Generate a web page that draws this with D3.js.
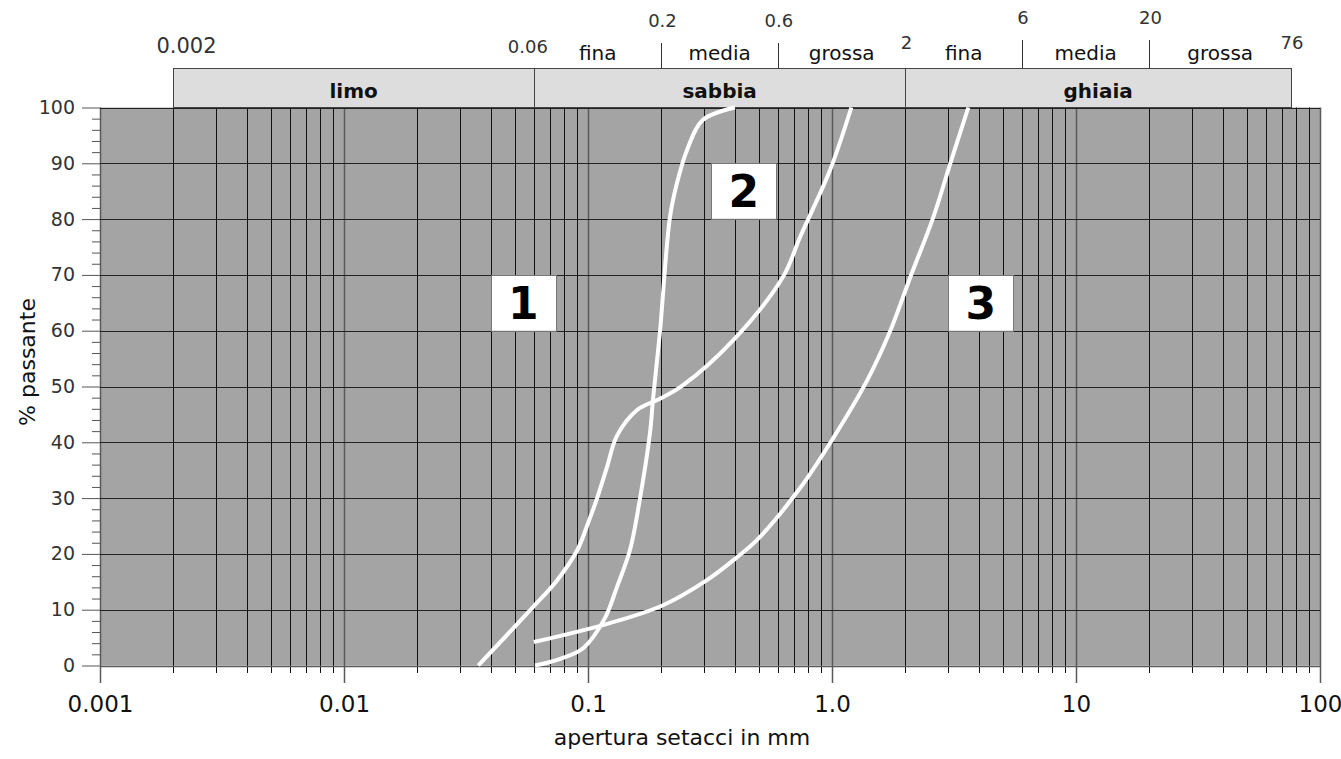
<!DOCTYPE html>
<html>
<head>
<meta charset="utf-8">
<script src="https://cdn.jsdelivr.net/npm/d3@7"></script>
<style>
  body { margin: 0; background: #fff; }
  text { font-family: "DejaVu Sans", sans-serif; }
</style>
</head>
<body>
<script>
// grading curves: [sieve opening in mm, % passing]
var curve1 = [[0.0355, 0], [0.0596, 10.5], [0.0745, 15.2], [0.0902, 20.6], [0.1, 25.5],
  [0.109, 30], [0.1197, 35.6], [0.1315, 41.2], [0.159, 45.8], [0.197, 47.8],
  [0.243, 50.1], [0.394, 58.3], [0.631, 69.7], [0.74, 76.8], [0.982, 88.8], [1.2, 100]];
var curve2 = [[0.0607, 0], [0.077, 1.2], [0.0955, 3.1], [0.117, 8.4], [0.1315, 14.1],
  [0.1486, 20.7], [0.163, 29.7], [0.1795, 41.7], [0.1846, 47.6], [0.197, 59.6],
  [0.2168, 80.4], [0.2317, 86.5], [0.2547, 92.4], [0.296, 97.8], [0.40, 100]];
var curve3 = [[0.06, 4.2], [0.123, 7.6], [0.203, 10.8], [0.307, 15.3], [0.408, 19.4],
  [0.493, 22.5], [0.74, 31.8], [1.013, 40.8], [1.39, 51], [1.73, 59.9],
  [2.09, 69.5], [2.6, 80.3], [3.05, 89.9], [3.62, 100]];

// soil fractions along the top
var fractionNames = ["limo", "sabbia", "ghiaia"];
var fractionLimits = [0.002, 0.06, 2, 76];
var subNames = ["fina", "media", "grossa"];
var sandLimits = [0.06, 0.2, 0.6, 2];
var gravelLimits = [2, 6, 20, 76];
var topLabels = ["0.002", "0.06", "0.2", "0.6", "2", "6", "20", "76"];
var topValues = [0.002, 0.06, 0.2, 0.6, 2, 6, 20, 76];

// axes
var xTickValues = [0.001, 0.01, 0.1, 1, 10, 100];
var xTickLabels = ["0.001", "0.01", "0.1", "1.0", "10", "100"];
var yTickValues = [0, 10, 20, 30, 40, 50, 60, 70, 80, 90, 100];

// curve number boxes: left edge (mm), top edge (%)
var boxLabels = ["1", "2", "3"];
var boxLeft = [0.04, 0.32, 3.0];
var boxTop = [70, 90, 70];

var W = 1341, H = 759;
var svg = d3.select("body").append("svg")
  .attr("width", W)
  .attr("height", H);

var x = d3.scaleLog().domain([0.001, 100]).range([100, 1320]);
var y = d3.scaleLinear().domain([0, 100]).range([665.5, 107.5]);

function isDecade(d) {
  var l = Math.log10(d);
  return Math.abs(l - Math.round(l)) < 1e-9;
}

// plot background
svg.append("rect")
  .attr("x", x(0.001)).attr("y", y(100))
  .attr("width", x(100) - x(0.001)).attr("height", y(0) - y(100))
  .attr("fill", "#a4a4a4");

// vertical grid (1..9 per decade), running on below the plot
svg.append("g").selectAll("line")
  .data(x.ticks())
  .enter().append("line")
    .attr("x1", function(d) { return Math.round(x(d)) + 0.5; })
    .attr("x2", function(d) { return Math.round(x(d)) + 0.5; })
    .attr("y1", y(100))
    .attr("y2", function(d) { return isDecade(d) ? 683 : 673; })
    .attr("stroke", function(d) { return isDecade(d) ? "#5a5a5a" : "#111"; })
    .attr("stroke-width", function(d) { return isDecade(d) ? 1.5 : 1; });

// horizontal grid
svg.append("g").selectAll("line")
  .data(yTickValues)
  .enter().append("line")
    .attr("x1", x(0.001)).attr("x2", x(100))
    .attr("y1", function(d) { return Math.round(y(d)) + 0.5; })
    .attr("y2", function(d) { return Math.round(y(d)) + 0.5; })
    .attr("stroke", function(d) { return d === 0 ? "#5a5a5a" : "#222"; })
    .attr("stroke-width", function(d) { return d === 0 ? 1.5 : 1; });

// y axis: major + minor ticks
var yAxis = svg.append("g")
  .attr("transform", "translate(" + x(0.001) + ",0)")
  .call(d3.axisLeft(y).tickValues(yTickValues).tickSize(18).tickPadding(7));
yAxis.select(".domain").remove();
yAxis.selectAll("line").attr("stroke", "#555");
yAxis.selectAll("text")
  .attr("font-size", 19)
  .attr("font-family", "DejaVu Sans")
  .attr("fill", "#333");

var yMinor = svg.append("g")
  .attr("transform", "translate(" + x(0.001) + ",0)")
  .call(d3.axisLeft(y).tickValues(d3.range(2, 100, 2).filter(function(d) { return d % 10; }))
    .tickSize(8).tickFormat(""));
yMinor.select(".domain").remove();
yMinor.selectAll("line").attr("stroke", "#555");

// x axis labels
var xAxis = svg.append("g")
  .attr("transform", "translate(0," + y(0) + ")")
  .call(d3.axisBottom(x).tickValues(xTickValues).tickSize(0).tickPadding(46)
    .tickFormat(function(d, i) { return xTickLabels[i]; }));
xAxis.select(".domain").remove();
xAxis.selectAll("text")
  .attr("font-size", 23)
  .attr("font-family", "DejaVu Sans")
  .attr("dy", 0)
  .attr("fill", "#111");

svg.append("text")
  .attr("x", 682).attr("y", 745)
  .attr("text-anchor", "middle")
  .attr("font-size", 22)
  .attr("fill", "#111")
  .text("apertura setacci in mm");

svg.append("text")
  .attr("transform", "translate(35,362) rotate(-90)")
  .attr("text-anchor", "middle")
  .attr("font-size", 22)
  .attr("fill", "#111")
  .text("% passante");

// fraction bands
var bands = svg.append("g");
fractionNames.forEach(function(name, i) {
  var x0 = x(fractionLimits[i]), x1 = x(fractionLimits[i + 1]);
  bands.append("rect")
    .attr("x", Math.round(x0) + 0.5).attr("y", 68.5)
    .attr("width", Math.round(x1) - Math.round(x0)).attr("height", 39)
    .attr("fill", "#dddddd")
    .attr("stroke", "#444")
    .attr("stroke-width", 1);
  bands.append("text")
    .attr("x", (x0 + x1) / 2).attr("y", 98)
    .attr("text-anchor", "middle")
    .attr("font-size", 20)
    .attr("font-weight", "bold")
    .attr("fill", "#111")
    .text(name);
});

// sub-fractions of sand and gravel
[sandLimits, gravelLimits].forEach(function(lim) {
  subNames.forEach(function(name, i) {
    bands.append("text")
      .attr("x", (x(lim[i]) + x(lim[i + 1])) / 2).attr("y", 60)
      .attr("text-anchor", "middle")
      .attr("font-size", 20)
      .attr("fill", "#111")
      .text(name);
  });
  [lim[1], lim[2]].forEach(function(v) {
    bands.append("line")
      .attr("x1", Math.round(x(v)) + 0.5).attr("x2", Math.round(x(v)) + 0.5)
      .attr("y1", lim === sandLimits ? 43 : 40).attr("y2", 68)
      .attr("stroke", "#333");
  });
});

// limit values above the bands
bands.selectAll("text.lim")
  .data(topValues)
  .enter().append("text")
    .attr("class", "lim")
    .attr("x", function(d) {
      if (d === 0.002) return x(d) + 13;
      if (d === 0.06) return x(d) - 6;
      return x(d) + 1;
    })
    .attr("y", function(d) {
      if (d === 0.2 || d === 0.6) return 27;
      if (d === 6 || d === 20) return 24;
      if (d === 2 || d === 76) return 49;
      return 53;
    })
    .attr("text-anchor", "middle")
    .attr("font-size", function(d) { return d === 0.002 ? 21 : 18; })
    .attr("fill", "#333")
    .text(function(d, i) { return topLabels[i]; });

// grading curves
var line = d3.line()
  .x(function(d) { return x(d[0]); })
  .y(function(d) { return y(d[1]); })
  .curve(d3.curveCatmullRom.alpha(0.5));

svg.append("g").selectAll("path")
  .data([curve1, curve2, curve3])
  .enter().append("path")
    .attr("d", line)
    .attr("fill", "none")
    .attr("stroke", "#fff")
    .attr("stroke-width", 4);

// number boxes
var boxW = 65;
boxLabels.forEach(function(lbl, i) {
  var bx = x(boxLeft[i]), by = y(boxTop[i]), bh = y(boxTop[i] - 10) - y(boxTop[i]);
  svg.append("rect")
    .attr("x", Math.round(bx) + 0.5).attr("y", Math.round(by) + 0.5)
    .attr("width", boxW).attr("height", bh)
    .attr("fill", "#fff")
    .attr("stroke", "#777");
  svg.append("text")
    .attr("x", bx + boxW / 2).attr("y", by + bh / 2 + 16)
    .attr("text-anchor", "middle")
    .attr("font-size", 44)
    .attr("font-weight", "bold")
    .attr("fill", "#000")
    .text(lbl);
});
</script>
</body>
</html>
